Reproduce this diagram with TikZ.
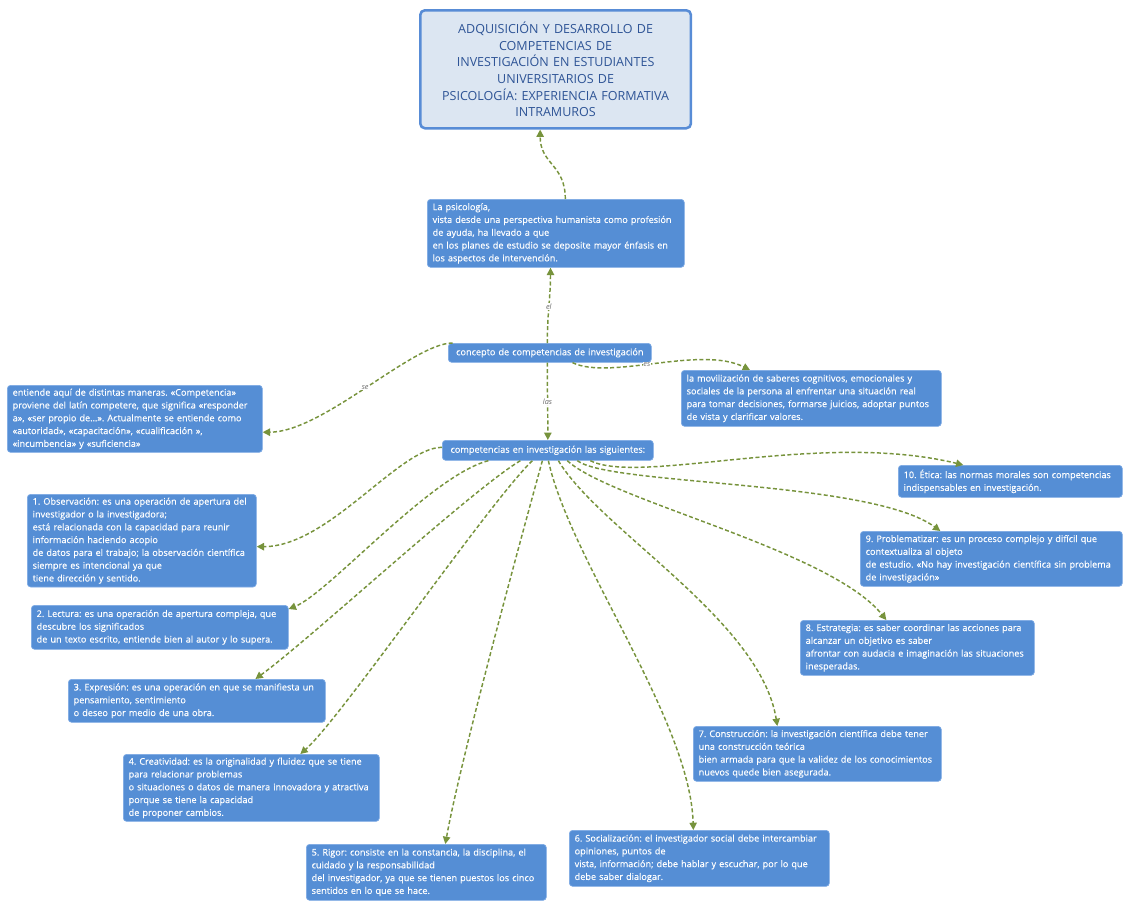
\documentclass[tikz,border=0pt]{standalone}
\usepackage{fontspec}
\setmainfont{Open Sans}
\newfontfamily\boxfont{Open Sans}[BoldFont={Open Sans},BoldFeatures={FakeBold=0.25}]
\usetikzlibrary{arrows.meta}
\definecolor{boxblue}{RGB}{85,142,213}
\definecolor{boxedge}{RGB}{125,170,228}
\definecolor{titlefill}{RGB}{220,230,242}
\definecolor{titleedge}{RGB}{88,140,214}
\definecolor{titleblue}{RGB}{46,84,150}
\definecolor{linkgreen}{RGB}{119,147,60}
\definecolor{labelgray}{RGB}{105,105,105}
\begin{document}
\frenchspacing
\hyphenpenalty=10000
\exhyphenpenalty=10000
\begin{tikzpicture}[x=0.75pt,y=-0.75pt,
  mbox/.style={rectangle, rounded corners=2.5pt, fill=boxblue, draw=boxedge, line width=0.5pt,
    text=white, font=\boxfont\bfseries\fontsize{6.85}{9.6}\selectfont, align=left, inner xsep=4pt, inner ysep=2.5pt, anchor=north west},
  cbox/.style={mbox, align=center},
  titlebox/.style={rectangle, rounded corners=3.5pt, fill=titlefill, draw=titleedge, line width=1.9pt,
    text=titleblue, font=\fontsize{9.4}{12.5}\selectfont, align=center, inner xsep=4pt, inner ysep=3pt, anchor=north west},
  link/.style={draw=linkgreen, line width=1.1pt, dash pattern=on 3pt off 1.8pt,
    -{Triangle[width=5.5pt,length=5.5pt]}},
  linklabel/.style={font=\fontsize{5.5}{6}\itshape\selectfont, text=labelgray, fill=white, inner sep=0.6pt}
]
\useasboundingbox (0,0) rectangle (1131,908);

% nodes
\node[titlebox, text width=195pt, minimum height=88.5pt] (title) at (419,9)
  {ADQUISICIÓN Y DESARROLLO DE\\COMPETENCIAS DE\\INVESTIGACIÓN EN ESTUDIANTES\\UNIVERSITARIOS DE\\PSICOLOGÍA: EXPERIENCIA FORMATIVA\\INTRAMUROS};

\node[mbox, text width=184.75pt, minimum height=51pt] (psico) at (427,199)
  {La psicología,\\vista desde una perspectiva humanista como profesión\\de ayuda, ha llevado a que\\en los planes de estudio se deposite mayor énfasis en\\los aspectos de intervención.};

\node[cbox, text width=144.25pt, minimum height=14.25pt] (concepto) at (448,343)
  {concepto de competencias de investigación};

\node[mbox, text width=183.25pt, minimum height=50pt] (se) at (7,385)
  {entiende aquí de distintas maneras. «Competencia»\\proviene del latín competere, que significa «responder\\a», «ser propio de…». Actualmente se entiende como\\«autoridad», «capacitación», «cualificación »,\\«incumbencia» y «suficiencia»};

\node[mbox, text width=187pt, minimum height=42pt] (movil) at (681,370)
  {la movilización de saberes cognitivos, emocionales y\\sociales de la persona al enfrentar una situación real\\para tomar decisiones, formarse juicios, adoptar puntos\\de vista y clarificar valores.};

\node[cbox, text width=150.25pt, minimum height=15pt] (comp) at (442,440)
  {competencias en investigación las siguientes:};

\node[mbox, text width=163.75pt, minimum height=69pt] (o1) at (27,494)
  {1. Observación: es una operación de apertura del\\investigador o la investigadora;\\está relacionada con la capacidad para reunir\\información haciendo acopio\\de datos para el trabajo; la observación científica\\siempre es intencional ya que\\tiene dirección y sentido.};

\node[mbox, text width=184.75pt, minimum height=33pt] (o2) at (31,605)
  {2. Lectura: es una operación de apertura compleja, que\\descubre los significados\\de un texto escrito, entiende bien al autor y lo supera.};

\node[mbox, text width=184.75pt, minimum height=32.25pt] (o3) at (68,679)
  {3. Expresión: es una operación en que se manifiesta un\\pensamiento, sentimiento\\o deseo por medio de una obra.};

\node[mbox, text width=184pt, minimum height=50.25pt] (o4) at (123,754)
  {4. Creatividad: es la originalidad y fluidez que se tiene\\para relacionar problemas\\o situaciones o datos de manera innovadora y atractiva\\porque se tiene la capacidad\\de proponer cambios.};

\node[mbox, text width=172pt, minimum height=42pt] (o5) at (306,844)
  {5. Rigor: consiste en la constancia, la disciplina, el\\cuidado y la responsabilidad\\del investigador, ya que se tienen puestos los cinco\\sentidos en lo que se hace.};

\node[mbox, text width=187pt, minimum height=42pt] (o6) at (569,830)
  {6. Socialización: el investigador social debe intercambiar\\opiniones, puntos de\\vista, información; debe hablar y escuchar, por lo que\\debe saber dialogar.};

\node[mbox, text width=178pt, minimum height=41.25pt] (o7) at (693,726)
  {7. Construcción: la investigación científica debe tener\\una construcción teórica\\bien armada para que la validez de los conocimientos\\nuevos quede bien asegurada.};

\node[mbox, text width=167.5pt, minimum height=41.25pt] (o8) at (800,620)
  {8. Estrategia: es saber coordinar las acciones para\\alcanzar un objetivo es saber\\afrontar con audacia e imaginación las situaciones\\inesperadas.};

\node[mbox, text width=188.5pt, minimum height=41.25pt] (o9) at (860,531)
  {9. Problematizar: es un proceso complejo y difícil que\\contextualiza al objeto\\de estudio. «No hay investigación científica sin problema\\de investigación»};

\node[mbox, text width=160pt, minimum height=24pt] (o10) at (898,465)
  {10. Ética: las normas morales son competencias\\indispensables en investigación.};

% connectors
\draw[link] ([xshift=7.1pt]psico.north) .. controls +(0,-35) and +(0,35) .. ([xshift=-11.6pt]title.south);
\draw[link] ([xshift=-1.9pt]concepto.north) .. controls +(0,-30) and +(0,30) .. node[linklabel,pos=0.48] {el} ([xshift=-4pt]psico.south);
\draw[link] ([xshift=3.5pt]concepto.north west) .. controls +(-40,0) and +(60,0) .. node[linklabel,pos=0.5] {se} ([yshift=-10pt]se.east);
\draw[link] ([xshift=17pt]concepto.south) .. controls +(38,18) and +(-50,-25) .. node[linklabel,pos=0.45] {es} ([xshift=-46pt]movil.north);
\draw[link] ([xshift=-1.9pt]concepto.south) .. controls +(0,30) and +(0,-30) .. node[linklabel,pos=0.5] {las} (comp.north);

\draw[link] ([yshift=2.25pt]comp.west) .. controls +(-43,0) and +(72,0) .. ([yshift=-4.5pt]o1.east);
\draw[link] ([xshift=-44.6pt]comp.south) .. controls +(-58,15) and +(40,-16) .. ([yshift=-3pt]o2.north east);
\draw[link] ([xshift=-20.6pt]comp.south) .. controls +(-50,30) and +(55,-40) .. ([xshift=43.9pt]o3.north);
\draw[link] ([xshift=-11.6pt]comp.south) .. controls +(-42,40) and +(40,-35) .. ([xshift=36.75pt]o4.north);
\draw[link] ([xshift=-4.1pt]comp.south) .. controls +(-22,80) and +(15,-84) .. ([xshift=14.25pt]o5.north);
\draw[link] ([xshift=0.4pt]comp.south) .. controls +(22,100) and +(-3,-110) .. ([xshift=-4.5pt]o6.north);
\draw[link] ([xshift=7.9pt]comp.south) .. controls +(42,70) and +(-17,-106) .. ([xshift=-30pt]o7.north);
\draw[link] ([xshift=14.6pt]comp.south) .. controls +(43,40) and +(-56,-70) .. ([xshift=-23.25pt]o8.north);
\draw[link] ([xshift=22.1pt]comp.south) .. controls +(33,25) and +(-70,-51) .. ([xshift=-38.25pt]o9.north);
\draw[link] ([xshift=31.9pt]comp.south) .. controls +(50,25) and +(-143,-35) .. ([xshift=-35.25pt]o10.north);
\end{tikzpicture}
\end{document}
